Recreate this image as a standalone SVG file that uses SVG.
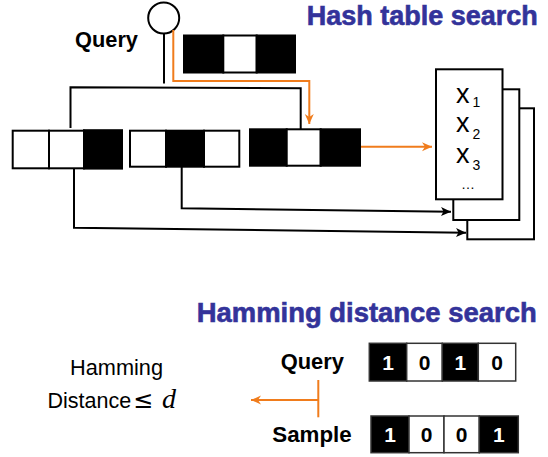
<svg xmlns="http://www.w3.org/2000/svg" width="548" height="457" viewBox="0 0 548 457">
  <defs>
    <marker id="arrBlack" markerUnits="userSpaceOnUse" markerWidth="12" markerHeight="12" refX="10" refY="6" orient="auto">
      <path d="M0,1.5 L10,6 L0,10.5 L2.5,6 Z" fill="#000"/>
    </marker>
    <marker id="arrOrange" markerUnits="userSpaceOnUse" markerWidth="12" markerHeight="12" refX="10" refY="6" orient="auto">
      <path d="M0,1.5 L10,6 L0,10.5 L3,6 Z" fill="#f07c1c"/>
    </marker>
    <style>
      .cellW { fill: #fff; stroke: #000; stroke-width: 2; }
      .cellB { fill: #000; stroke: #000; stroke-width: 2; }
      .bitW { fill: #fff; stroke: #333; stroke-width: 1.5; }
      .bitB { fill: #000; stroke: #333; stroke-width: 1.5; }
      .card { fill: #fff; stroke: #000; stroke-width: 2; }
      .wire { fill: none; stroke: #000; stroke-width: 2; }
      .hot { fill: none; stroke: #f07c1c; stroke-width: 2; }
      .title { font-family: "Liberation Sans", Arial, sans-serif; font-weight: bold; font-size: 27px; fill: #33339a; stroke: #33339a; stroke-width: 0.6; }
      .label { font-family: "Liberation Sans", Arial, sans-serif; font-weight: bold; font-size: 22px; fill: #000; }
      .plain { font-family: "Liberation Sans", Arial, sans-serif; font-size: 21.5px; fill: #000; }
      .digit { font-family: "Liberation Sans", Arial, sans-serif; font-weight: bold; font-size: 21px; text-anchor: middle; }
      .var { font-family: "Liberation Sans", Arial, sans-serif; font-size: 27px; fill: #000; }
      .sub { font-family: "Liberation Sans", Arial, sans-serif; font-size: 14px; fill: #000; }
    </style>
  </defs>

  <!-- Hash table search -->
  <text class="title" x="306.7" y="25" textLength="231" lengthAdjust="spacingAndGlyphs">Hash table search</text>

  <g id="query-node">
    <circle cx="163.7" cy="18" r="15.5" fill="#fff" stroke="#000" stroke-width="2"/>
    <line x1="164" y1="33.5" x2="164" y2="83.5" stroke="#000" stroke-width="2"/>
    <text class="label" x="75" y="46.7" textLength="63" lengthAdjust="spacingAndGlyphs">Query</text>
  </g>

  <g id="query-code">
    <rect class="cellB" x="184" y="35.5" width="39.3" height="37"/>
    <rect class="cellW" x="223.3" y="35.5" width="33.4" height="37"/>
    <rect class="cellB" x="256.7" y="35.5" width="38.3" height="37"/>
  </g>

  <g id="bucket-1">
    <rect class="cellW" x="12.7" y="130.7" width="36.3" height="37.6"/>
    <rect class="cellW" x="49" y="130.7" width="35" height="37.6"/>
    <rect class="cellB" x="84" y="130.2" width="38" height="38.4"/>
  </g>

  <g id="bucket-2">
    <rect class="cellW" x="130" y="130.7" width="36" height="36"/>
    <rect class="cellB" x="166" y="130.7" width="38" height="36"/>
    <rect class="cellW" x="204" y="130.7" width="35.3" height="36"/>
  </g>

  <g id="bucket-3">
    <rect class="cellB" x="250" y="129.3" width="36.7" height="36.4"/>
    <rect class="cellW" x="286.7" y="129.3" width="34" height="36.4"/>
    <rect class="cellB" x="320.7" y="129.3" width="39.3" height="36.4"/>
  </g>

  <g id="table">
    <rect class="card" x="467.3" y="108.3" width="66.7" height="131"/>
    <rect class="card" x="453.3" y="89.3" width="66" height="130.7"/>
    <rect class="card" x="436" y="69.3" width="66.5" height="130"/>
    <text class="var" x="456" y="103.3">x<tspan class="sub" x="472.5" y="106.7">1</tspan></text>
    <text class="var" x="456" y="131.7">x<tspan class="sub" x="472.5" y="138.7">2</tspan></text>
    <text class="var" x="456" y="162.7">x<tspan class="sub" x="472.5" y="170">3</tspan></text>
    <text class="sub" x="461" y="189">…</text>
  </g>

  <g id="connectors">
    <path class="wire" d="M70.5,128 V87.3 L300.7,88.3 V130"/>
    <path class="hot" d="M173.3,30 V81 H309.3 V124" marker-end="url(#arrOrange)"/>
    <path class="hot" d="M361,146.7 H432" marker-end="url(#arrOrange)"/>
    <path class="wire" d="M181.7,166.7 V208.3 L451,211.7" marker-end="url(#arrBlack)"/>
    <path class="wire" d="M74,168.3 V227.7 L466,232.7" marker-end="url(#arrBlack)"/>
    <path class="hot" d="M318.3,380 V417.3"/>
    <path class="hot" d="M318.3,400 H251" marker-end="url(#arrOrange)"/>
  </g>

  <!-- Hamming distance search -->
  <text class="title" x="196.7" y="321.7" textLength="340" lengthAdjust="spacingAndGlyphs">Hamming distance search</text>

  <g id="result">
    <text class="plain" x="70" y="375" textLength="93" lengthAdjust="spacingAndGlyphs">Hamming</text>
    <text class="plain" x="47.5" y="408.3" font-size="21">Distance<tspan x="133" font-family="'DejaVu Sans', sans-serif" font-size="24">≤</tspan><tspan x="162" font-family="'Liberation Serif', 'Times New Roman', serif" font-style="italic" font-size="28">d</tspan></text>
  </g>

  <g id="query-bits">
    <text class="label" x="280.7" y="369.3" textLength="63.3" lengthAdjust="spacingAndGlyphs">Query</text>
    <rect class="bitB" x="369.3" y="343.3" width="37.4" height="37.7"/>
    <rect class="bitW" x="406.7" y="343.3" width="35.6" height="37.7"/>
    <rect class="bitB" x="442.3" y="343.3" width="36" height="37.7"/>
    <rect class="bitW" x="478.3" y="343.3" width="37.4" height="37.7"/>
    <text class="digit" x="388" y="370" fill="#fff">1</text>
    <text class="digit" x="424.5" y="370" fill="#000">0</text>
    <text class="digit" x="460.3" y="370" fill="#fff">1</text>
    <text class="digit" x="497" y="370" fill="#000">0</text>
  </g>

  <g id="sample-bits">
    <text class="label" x="272.3" y="441.7" textLength="79.4" lengthAdjust="spacingAndGlyphs">Sample</text>
    <rect class="bitB" x="371" y="416" width="38" height="36.7"/>
    <rect class="bitW" x="409" y="416" width="35" height="36.7"/>
    <rect class="bitW" x="444" y="416" width="35.3" height="36.7"/>
    <rect class="bitB" x="479.3" y="416" width="39" height="36.7"/>
    <text class="digit" x="390" y="442" fill="#fff">1</text>
    <text class="digit" x="426.5" y="442" fill="#000">0</text>
    <text class="digit" x="461.7" y="442" fill="#000">0</text>
    <text class="digit" x="498.8" y="442" fill="#fff">1</text>
  </g>
</svg>
